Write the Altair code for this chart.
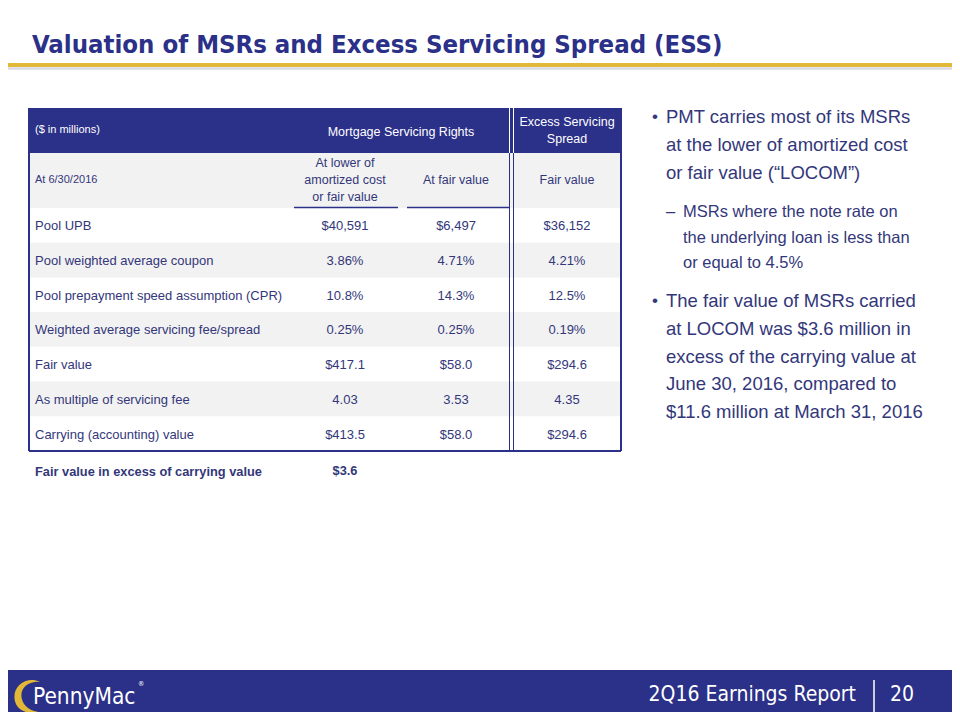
import altair as alt
import pandas as pd

# ---------------- data ----------------
title = "Valuation of MSRs and Excess Servicing Spread (ESS)"
row_labels = [
    "Pool UPB",
    "Pool weighted average coupon",
    "Pool prepayment speed assumption (CPR)",
    "Weighted average servicing fee/spread",
    "Fair value",
    "As multiple of servicing fee",
    "Carrying (accounting) value",
]
msr_locom = ["$40,591", "3.86%", "10.8%", "0.25%", "$417.1", "4.03", "$413.5"]
msr_fair = ["$6,497", "4.71%", "14.3%", "0.25%", "$58.0", "3.53", "$58.0"]
ess_fair = ["$36,152", "4.21%", "12.5%", "0.19%", "$294.6", "4.35", "$294.6"]
unit_label = "($ in millions)"
date_label = "At 6/30/2016"
group_msr = ["Mortgage Servicing Rights"]
group_ess = ["Excess Servicing", "Spread"]
col_locom = ["At lower of", "amortized cost", "or fair value"]
col_fair = ["At fair value"]
col_ess = ["Fair value"]
excess_label = "Fair value in excess of carrying value"
excess_value = "$3.6"
bullet1 = ["PMT carries most of its MSRs", "at the lower of amortized cost", "or fair value (\u201cLOCOM\u201d)"]
sub1 = ["MSRs where the note rate on", "the underlying loan is less than", "or equal to 4.5%"]
bullet2 = ["The fair value of MSRs carried", "at LOCOM was $3.6 million in", "excess of the carrying value at",
           "June 30, 2016, compared to", "$11.6 million at March 31, 2016"]
footer_text = "2Q16 Earnings Report"
page_no = "20"
logo_text = "PennyMac"

# ---------------- style / layout ----------------
NAVY = "#2B3088"
TXT = "#33377A"
GOLD = "#E1B838"
GRAY = "#F2F2F2"
WHITE = "#FFFFFF"
SANS = "Liberation Sans, Arial, sans-serif"
NARROW = "Liberation Sans Narrow, Arial Narrow, DejaVu Sans Condensed, sans-serif"

W, H = 944, 704
XS = alt.Scale(domain=[8, 8 + W], nice=False, zero=False)
YS = alt.Scale(domain=[8, 8 + H], nice=False, zero=False, reverse=True)

T_LEFT, T_RIGHT = 29, 621
H1_TOP, H1_BOT, H2_BOT = 108, 153, 208
ROW_H = 34.7
N = len(row_labels)
BODY_BOT = H2_BOT + ROW_H * N
COLS = [345, 456, 567]
DBL = [509.5, 513.5]


def X(f):
    return alt.X(f, type="quantitative", scale=XS, axis=None)


def Y(f):
    return alt.Y(f, type="quantitative", scale=YS, axis=None)


def rects(rows):
    df = pd.DataFrame(rows, columns=["x", "x2", "y", "y2", "c"])
    return alt.Chart(df).mark_rect().encode(
        x=X("x"), x2="x2", y=Y("y"), y2="y2", color=alt.Color("c:N", scale=None)
    )


def rules(rows):
    df = pd.DataFrame(rows, columns=["x", "x2", "y", "y2", "c", "w"])
    return alt.Chart(df).mark_rule().encode(
        x=X("x"), x2="x2", y=Y("y"), y2="y2",
        color=alt.Color("c:N", scale=None),
        strokeWidth=alt.StrokeWidth("w:Q", scale=None),
    )


def texts(rows, align="left", font=SANS, weight="normal"):
    df = pd.DataFrame(rows, columns=["x", "y", "t", "s", "c"])
    return alt.Chart(df).mark_text(align=align, baseline="middle", font=font, fontWeight=weight).encode(
        x=X("x"), y=Y("y"), text="t:N",
        size=alt.Size("s:Q", scale=None),
        color=alt.Color("c:N", scale=None),
    )


# backgrounds
bg = [
    [T_LEFT, T_RIGHT, H1_TOP, H1_BOT, NAVY],
    [T_LEFT, T_RIGHT, H1_BOT, H2_BOT, GRAY],
    [8, 8 + W, 670, 8 + H, NAVY],
]
for i in range(N):
    if i % 2 == 1:
        bg.append([T_LEFT, T_RIGHT, H2_BOT + ROW_H * i, H2_BOT + ROW_H * (i + 1), GRAY])

# lines
ln = [
    [8, 8 + W, 65, 65, GOLD, 4],
    [8, 8 + W, 68.5, 68.5, "#DADAE4", 2.5],
    [T_LEFT, T_LEFT, H1_TOP, BODY_BOT, NAVY, 2],
    [T_RIGHT, T_RIGHT, H1_TOP, BODY_BOT, NAVY, 2],
    [T_LEFT, T_RIGHT, BODY_BOT, BODY_BOT, NAVY, 2],
    [294, 398, H2_BOT - 0.5, H2_BOT - 0.5, NAVY, 1.5],
    [407, DBL[0], H2_BOT - 0.5, H2_BOT - 0.5, NAVY, 1.5],
    [874, 874, 680, 8 + H, WHITE, 1.5],
]
for xd in DBL:
    ln.append([xd, xd, H1_TOP, H1_BOT, WHITE, 1])
    ln.append([xd, xd, H1_BOT, BODY_BOT, NAVY, 1])

# table text
tl = [[35, 130, unit_label, 11, WHITE], [35, 180, date_label, 11, TXT]]
tc = [[401, 132, group_msr[0], 12.5, WHITE]]
for j, s in enumerate(group_ess):
    tc.append([COLS[2], 122 + 17 * j, s, 12.5, WHITE])
for j, s in enumerate(col_locom):
    tc.append([COLS[0], 163 + 17 * j, s, 12.5, TXT])
tc.append([COLS[1], 180, col_fair[0], 12.5, TXT])
tc.append([COLS[2], 180, col_ess[0], 12.5, TXT])
for i in range(N):
    yc = H2_BOT + ROW_H * (i + 0.5) + 1
    tl.append([35, yc, row_labels[i], 13, TXT])
    tc.append([COLS[0], yc, msr_locom[i], 13, TXT])
    tc.append([COLS[1], yc, msr_fair[i], 13, TXT])
    tc.append([COLS[2], yc, ess_fair[i], 13, TXT])

bold_l = [[35, 472, excess_label, 12.8, TXT]]
bold_c = [[COLS[0], 471, excess_value, 12.8, TXT]]

# right-hand bullets
rb = []
rb.append([652, 117, "\u2022", 17, TXT])
for j, s in enumerate(bullet1):
    rb.append([666, 117 + 28 * j, s, 18.5, TXT])
rb.append([666, 212, "\u2013", 16.5, TXT])
for j, s in enumerate(sub1):
    rb.append([683, 212 + 25.5 * j, s, 16.5, TXT])
rb.append([652, 301, "\u2022", 17, TXT])
for j, s in enumerate(bullet2):
    rb.append([666, 301 + 27.8 * j, s, 18.5, TXT])

# title
ttl = [[32, 45, title, 25.5, NAVY]]

# footer
fr = [[856, 695, footer_text, 21, WHITE]]
fl = [[890, 695, page_no, 21, WHITE], [33, 697, logo_text, 22.5, WHITE], [138, 684, "\u00ae", 7, WHITE]]

# logo swoosh
swoosh = alt.Chart(pd.DataFrame({"x": [31], "y": [696]})).mark_point(
    shape="M 0.55 -0.85 C -0.2 -1.2 -1 -0.7 -1 0.05 C -1 0.8 -0.3 1.15 0.4 0.95 "
          "C -0.2 0.85 -0.58 0.45 -0.58 -0.05 C -0.58 -0.6 0 -0.92 0.55 -0.85 Z",
    filled=True, color=GOLD, opacity=1, size=1100, strokeWidth=0,
).encode(x=X("x"), y=Y("y"))

chart = alt.layer(
    rects(bg),
    rules(ln),
    texts(tl),
    texts(tc, align="center"),
    texts(bold_l, weight="bold"),
    texts(bold_c, align="center", weight="bold"),
    texts(rb),
    texts(ttl, font=NARROW, weight="bold"),
    swoosh,
    texts(fr, align="right", font=NARROW),
    texts(fl, font=NARROW),
).properties(
    width=W, height=H, padding=0, autosize=alt.AutoSizeParams(type="none"), background="white"
).configure_view(strokeWidth=0)

chart.save("out.html", embed_options={"renderer": "svg", "actions": False})
